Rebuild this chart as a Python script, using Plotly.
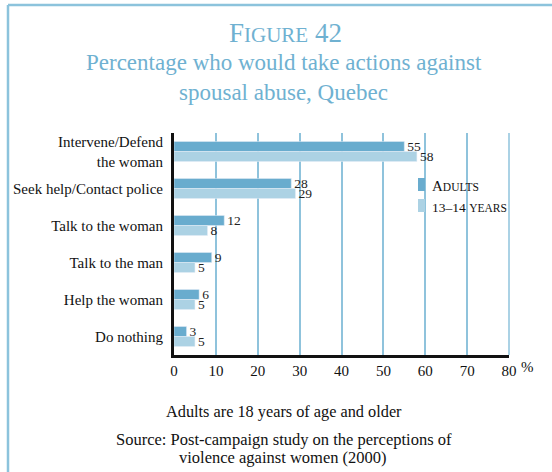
import plotly.graph_objects as go

# data
actions = ["Intervene/Defend<br>the woman", "Seek help/Contact police", "Talk to the woman",
           "Talk to the man", "Help the woman", "Do nothing"]
adults = [55, 28, 12, 9, 6, 3]
youth = [58, 29, 8, 5, 5, 5]
xticks = [0, 10, 20, 30, 40, 50, 60, 70, 80]
xticklabels = ["0", "10", "20", "30", "40", "50", "60", "70", "80"]

W, H = 552, 472
L, R, T, B = 174, 509, 133, 355   # plot area in pixels

def px(x):
    return (x - L) / (R - L)

def py(y):
    return (B - y) / (B - T)

dark = "#69acce"
light = "#acd2e4"
blue_txt = "#6fb1d1"
serif = "Liberation Serif, Times New Roman, serif"

fig = go.Figure()
fig.add_trace(go.Bar(y=actions, x=adults, orientation="h", name="Adults",
                     marker_color=dark, text=adults, textposition="outside",
                     textfont=dict(size=13.5, color="#222"), cliponaxis=False,
                     constraintext="none"))
fig.add_trace(go.Bar(y=actions, x=youth, orientation="h", name="13-14 years",
                     marker_color=light, text=youth, textposition="outside",
                     textfont=dict(size=13.5, color="#222"), cliponaxis=False,
                     constraintext="none"))

fig.update_layout(
    width=W, height=H,
    margin=dict(l=L, r=W - R, t=T, b=H - B),
    paper_bgcolor="white", plot_bgcolor="white",
    barmode="group", bargap=0.46, bargroupgap=0,
    showlegend=False,
    font=dict(family=serif, color="#111", size=14),
    xaxis=dict(range=[0, 80], tickvals=xticks, ticktext=xticklabels,
               showgrid=True, gridcolor="#8fc3dc", gridwidth=1.5,
               showline=True, linecolor="#111", linewidth=3,
               zeroline=False, ticks="", tickfont=dict(size=15), automargin=False),
    yaxis=dict(autorange="reversed", showline=True, linecolor="#111", linewidth=3,
               showgrid=False, ticks="", tickfont=dict(size=15), ticklabelstandoff=5,
               automargin=False),
)

shapes = [
    # frame: top and left borders
    dict(type="line", xref="paper", yref="paper", x0=px(8), x1=px(552), y0=py(5), y1=py(5),
         line=dict(color="#8cc3dc", width=2.5)),
    dict(type="line", xref="paper", yref="paper", x0=px(8), x1=px(8), y0=py(5), y1=py(472),
         line=dict(color="#8cc3dc", width=2.5)),
    # right gridline at 80
    dict(type="line", xref="paper", yref="paper", x0=1, x1=1, y0=0, y1=1,
         line=dict(color="#8fc3dc", width=1.5)),
    # legend swatches
    dict(type="rect", xref="paper", yref="paper", x0=px(418), x1=px(425), y0=py(178), y1=py(191),
         fillcolor=dark, line=dict(width=0)),
    dict(type="rect", xref="paper", yref="paper", x0=px(418), x1=px(425), y0=py(199), y1=py(212),
         fillcolor=light, line=dict(width=0)),
]
fig.update_layout(shapes=shapes)

def note(text, x, y, size, color="#111", xanchor="center"):
    fig.add_annotation(text=text, xref="paper", yref="paper", x=px(x), y=py(y),
                       xanchor=xanchor, yanchor="middle", showarrow=False,
                       font=dict(family=serif, size=size, color=color))

note("F<span style='font-size:21px'>IGURE</span> 42", 285, 33, 27, blue_txt)
note("Percentage who would take actions against", 283.5, 63, 23, blue_txt)
note("spousal abuse, Quebec", 283.5, 92, 23, blue_txt)
note("A<span style='font-size:11.5px'>DULTS</span>", 430, 186, 15, xanchor="left")
note("13–14 <span style='font-size:11.5px'>YEARS</span>", 430, 207, 13.5, xanchor="left")
note("%", 519, 367, 15, xanchor="left")
note("Adults are 18 years of age and older", 283.5, 411, 16.3)
note("Source: Post-campaign study on the perceptions of", 284, 439, 16.5)
note("violence against women (2000)", 283, 457, 16.5)

# page body has an 8px default margin; remove it so the chart sits at the window corner
fig.write_html("out.html", config={"displayModeBar": False},
               post_script="document.body.style.margin='0';")
